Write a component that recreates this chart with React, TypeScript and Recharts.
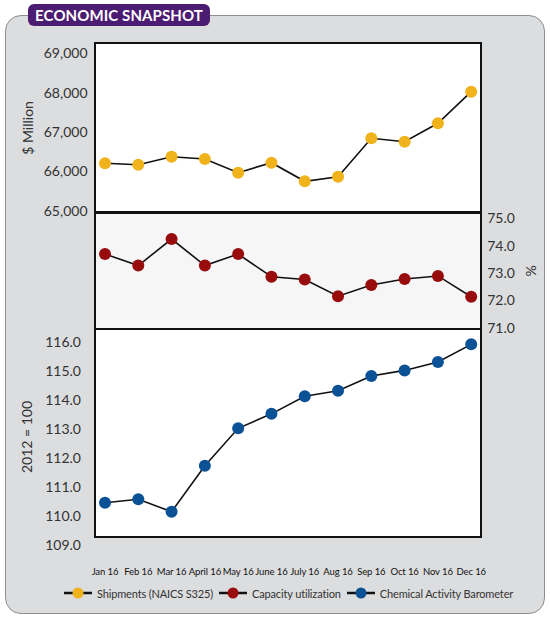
import React from 'react';
import { LineChart, Line, XAxis, YAxis, Legend } from 'recharts';

const months = ['Jan 16', 'Feb 16', 'Mar 16', 'April 16', 'May 16', 'June 16', 'July 16', 'Aug 16', 'Sep 16', 'Oct 16', 'Nov 16', 'Dec 16'];
const shipments = [66205, 66169, 66372, 66314, 65966, 66220, 65747, 65864, 66840, 66754, 67221, 68024];
const capacity = [73.69, 73.27, 74.24, 73.27, 73.69, 72.86, 72.76, 72.15, 72.56, 72.78, 72.89, 72.13];
const barometer = [110.46, 110.58, 110.15, 111.74, 113.03, 113.53, 114.14, 114.33, 114.84, 115.03, 115.32, 115.93];
const shipTicks = [65000, 66000, 67000, 68000, 69000];
const capTicks = [71, 72, 73, 74, 75];
const cabTicks = [109, 110, 111, 112, 113, 114, 115, 116];

const seriesNames = ['Shipments (NAICS S325)', 'Capacity utilization', 'Chemical Activity Barometer'];
const seriesColors = ['#F0B31B', '#990C0E', '#0B5196'];

const data = months.map((m, i) => ({
  month: m,
  shipments: shipments[i],
  capacity: capacity[i],
  barometer: barometer[i],
}));

const W = 550;
const H = 617;
const PL = 94.5;
const PR = 481.2;
const FONT = 'Lato, "Noto Sans", sans-serif';
const xPad = { left: 10.5, right: 10 };
const tickStyle = { fontSize: 14, fill: '#333', fontFamily: FONT };

const abs: React.CSSProperties = { position: 'absolute', left: 0, top: 0 };

const LegendContent = () => (
  <div style={{ display: 'flex', alignItems: 'center', whiteSpace: 'nowrap', fontFamily: FONT, fontSize: 11, letterSpacing: -0.15, color: '#333' }}>
    {seriesNames.map((n, i) => (
      <div key={n} style={{ display: 'flex', alignItems: 'center', marginRight: 6 }}>
        <svg width={28} height={14} style={{ display: 'block' }}>
          <line x1={0} y1={7} x2={28} y2={7} stroke="#111" strokeWidth={2.5} />
          <circle cx={14} cy={7} r={5.5} fill={seriesColors[i]} />
        </svg>
        <span style={{ marginLeft: 5 }}>{n}</span>
      </div>
    ))}
  </div>
);

export default function App() {
  return (
    <div style={{ position: 'absolute', left: 0, top: 0, width: W, height: H, background: '#fff', overflow: 'hidden', fontFamily: FONT }}>
      <div style={{ position: 'absolute', left: 5, top: 15, width: 540, height: 598.5, boxSizing: 'border-box', background: '#dcdddf', border: '1px solid #8e8e8e', borderRadius: 16 }} />
      <div style={{ position: 'absolute', left: 28, top: 4, width: 182, height: 22, background: '#4b1c71', borderRadius: 6, color: '#fff', fontWeight: 700, fontSize: 15, lineHeight: '22px', textAlign: 'center', letterSpacing: 0.1 }}>
        ECONOMIC SNAPSHOT
      </div>
      <div style={{ position: 'absolute', left: 93.5, top: 42.3, width: 388.7, height: 171.2, boxSizing: 'border-box', border: '2px solid #111', background: '#fff' }} />
      <div style={{ position: 'absolute', left: 93.5, top: 211.5, width: 388.7, height: 118.5, boxSizing: 'border-box', border: '2px solid #111', background: '#f6f6f6' }} />
      <div style={{ position: 'absolute', left: 93.5, top: 328, width: 388.7, height: 209.7, boxSizing: 'border-box', border: '2px solid #111', background: '#fff' }} />

      <div style={abs}>
        <LineChart width={W} height={H} data={data} margin={{ top: 43.3, bottom: H - 212.5, left: 0, right: W - PR }}>
          <XAxis dataKey="month" hide padding={xPad} />
          <YAxis
            yAxisId="s"
            width={PL}
            domain={[64954, 69254]}
            ticks={shipTicks}
            tickFormatter={(v: number) => v.toLocaleString('en-US')}
            axisLine={false}
            tickLine={false}
            tickSize={6}
            tickMargin={1}
            tick={tickStyle}
            label={{ value: '$ Million', angle: -90, position: 'insideLeft', offset: 28, style: { textAnchor: 'middle', fontSize: 14, fill: '#333', fontFamily: FONT } }}
          />
          <Line yAxisId="s" dataKey="shipments" name={seriesNames[0]} stroke="#111" strokeWidth={1.6} isAnimationActive={false}
            dot={{ r: 6, fill: seriesColors[0], stroke: seriesColors[0], strokeWidth: 0 }} />
        </LineChart>
      </div>

      <div style={abs}>
        <LineChart width={W} height={H} data={data} margin={{ top: 212.5, bottom: H - 329, left: PL, right: 0 }}>
          <XAxis dataKey="month" hide padding={xPad} />
          <YAxis
            yAxisId="c"
            orientation="right"
            width={W - PR}
            domain={[70.95, 75.21]}
            ticks={capTicks}
            tickFormatter={(v: number) => v.toFixed(1)}
            axisLine={false}
            tickLine={false}
            tickSize={6}
            tickMargin={0}
            tick={{ ...tickStyle, textAnchor: 'start' }}
            label={{ value: '%', angle: 90, position: 'insideRight', offset: 19, style: { textAnchor: 'middle', fontSize: 14, fill: '#333', fontFamily: FONT } }}
          />
          <Line yAxisId="c" dataKey="capacity" name={seriesNames[1]} stroke="#111" strokeWidth={1.6} isAnimationActive={false}
            dot={{ r: 6, fill: seriesColors[1], stroke: seriesColors[1], strokeWidth: 0 }} />
        </LineChart>
      </div>

      <div style={abs}>
        <LineChart width={W} height={H} data={data} margin={{ top: 329, bottom: 42, left: 0, right: W - PR }}>
          <XAxis
            dataKey="month"
            padding={xPad}
            height={30}
            axisLine={false}
            tickLine={false}
            tickSize={6}
            tickMargin={17}
            interval={0}
            tick={{ fontSize: 9.5, fill: '#111', fontWeight: 400, letterSpacing: -0.1, fontFamily: FONT }}
          />
          <YAxis
            yAxisId="b"
            width={PL}
            domain={[109, 116.46]}
            ticks={cabTicks}
            tickFormatter={(v: number) => v.toFixed(1)}
            axisLine={false}
            tickLine={false}
            tickSize={6}
            tickMargin={7.5}
            tick={tickStyle}
            label={{ value: '2012 = 100', angle: -90, position: 'insideLeft', offset: 27, style: { textAnchor: 'middle', fontSize: 14, fill: '#333', fontFamily: FONT } }}
          />
          <Line yAxisId="b" dataKey="barometer" name={seriesNames[2]} stroke="#111" strokeWidth={1.6} isAnimationActive={false}
            dot={{ r: 6, fill: seriesColors[2], stroke: seriesColors[2], strokeWidth: 0 }} />
          <Legend layout="horizontal" verticalAlign="middle" align="center" content={() => <LegendContent />}
            wrapperStyle={{ top: 586, left: 64, width: 480 }} />
        </LineChart>
      </div>
    </div>
  );
}
